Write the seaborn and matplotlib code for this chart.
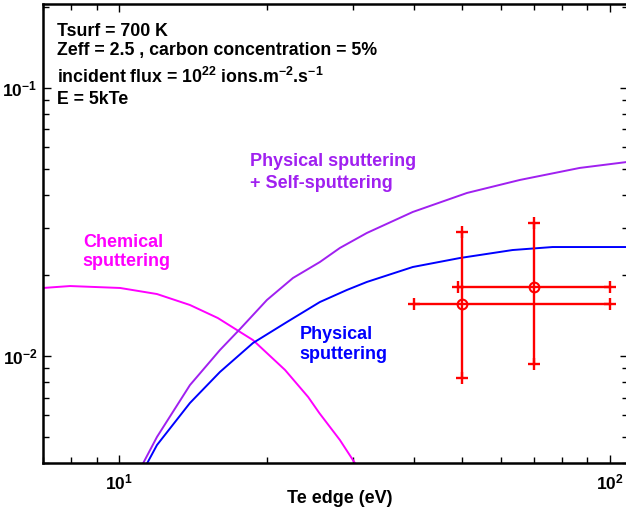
import numpy as np
import pandas as pd
import matplotlib
matplotlib.use("Agg")
import matplotlib.pyplot as plt
from matplotlib.ticker import LogLocator, NullFormatter, FixedLocator
import seaborn as sns

# chemical sputtering yield vs edge Te
te_chem = [7.0, 7.95, 10.05, 11.95, 13.95, 15.9, 18.75, 21.8, 24.3, 25.6, 28.2, 30.25, 30.7]
y_chem = [0.01794, 0.01824, 0.01794, 0.01703, 0.0155, 0.01386, 0.01147, 0.00887,
          0.00703, 0.00613, 0.00486, 0.00399, 0.0038]

# physical sputtering + self-sputtering
te_phys_self = [11.05, 11.95, 13.95, 16.06, 17.64, 20.02, 22.62, 25.67, 28.2, 32.0,
                39.7, 51.2, 65.6, 86.9, 110.0]
y_phys_self = [0.0038, 0.00499, 0.00779, 0.01053, 0.0126, 0.01618, 0.01954, 0.02242,
               0.0253, 0.02877, 0.03446, 0.04057, 0.04536, 0.0503, 0.0531]

# physical sputtering only
te_phys = [11.3, 11.95, 13.95, 16.06, 18.75, 21.99, 25.67, 29.13, 32.0, 39.7,
           49.5, 63.4, 76.5, 110.0]
y_phys = [0.00385, 0.004655, 0.00668, 0.00872, 0.01118, 0.01339, 0.0159, 0.01763,
          0.01889, 0.02148, 0.0232, 0.02485, 0.0255, 0.0255]

# measurements with ranges
te_meas = [50.0, 70.0]
te_lo = [40.0, 49.0]
te_hi = [100.0, 100.0]
y_meas = [0.0156, 0.0181]
y_lo = [0.0083, 0.0093]
y_hi = [0.029, 0.0314]

xtick_vals = [10, 100]
xtick_labels = [r"$\mathbf{10^{1}}$", r"$\mathbf{10^{2}}$"]
ytick_vals = [0.01, 0.1]
ytick_labels = [r"$\mathbf{10^{-2}}$", r"$\mathbf{10^{-1}}$"]

sns.set_style("ticks")
plt.rcParams["font.family"] = ["Liberation Sans", "DejaVu Sans"]
plt.rcParams["font.weight"] = "bold"
plt.rcParams["text.color"] = "black"
plt.rcParams["axes.labelcolor"] = "black"
plt.rcParams["mathtext.fontset"] = "custom"
plt.rcParams["mathtext.rm"] = "Liberation Sans:bold"
plt.rcParams["mathtext.bf"] = "Liberation Sans:bold"
plt.rcParams["mathtext.default"] = "bf"

MAGENTA = "#FF00FF"
PURPLE = "#A020F0"
BLUE = "#0000FF"
RED = "#FF0000"
FS = 12.8

fig = plt.figure(figsize=(6.26, 5.11), dpi=100)
ax = fig.add_axes([43 / 626, 48 / 511, 585 / 626, 459 / 511])

curves = [
    (te_chem, y_chem, MAGENTA),
    (te_phys_self, y_phys_self, PURPLE),
    (te_phys, y_phys, BLUE),
]
for te, y, col in curves:
    df = pd.DataFrame({"te": te, "y": y})
    sns.lineplot(data=df, x="te", y="y", color=col, lw=1.4, sort=False, ax=ax)

te_m = np.array(te_meas)
y_m = np.array(y_meas)
xerr = [te_m - np.array(te_lo), np.array(te_hi) - te_m]
yerr = [y_m - np.array(y_lo), np.array(y_hi) - y_m]
ax.errorbar(te_m, y_m, xerr=xerr, yerr=yerr, fmt="o", mfc="none", mec=RED,
            ms=7, mew=1.5, ecolor=RED, elinewidth=1.7, capsize=0)
# "+" shaped end caps like the original plot
ends_x = list(te_lo) + list(te_hi) + list(te_meas) + list(te_meas)
ends_y = list(y_meas) + list(y_meas) + list(y_lo) + list(y_hi)
ax.plot(ends_x, ends_y, ls="none", marker="+", ms=8, mew=1.7, color=RED)

ax.set_xscale("log")
ax.set_yscale("log")
ax.set_xlim(7.0, 109)
ax.set_ylim(0.00399, 0.2056)

ax.xaxis.set_major_locator(FixedLocator(xtick_vals))
ax.set_xticklabels(xtick_labels)
ax.yaxis.set_major_locator(FixedLocator(ytick_vals))
ax.set_yticklabels(ytick_labels)
for axis in (ax.xaxis, ax.yaxis):
    axis.set_minor_locator(LogLocator(base=10, subs=np.arange(2, 10)))
    axis.set_minor_formatter(NullFormatter())

ax.tick_params(which="both", direction="in", top=True, right=True, width=1,
               labelsize=12.5, colors="black")
ax.tick_params(which="major", length=6)
ax.tick_params(axis="x", which="major", pad=7)
ax.tick_params(axis="y", which="major", pad=4)
ax.tick_params(which="minor", length=4)
for sp in ax.spines.values():
    sp.set_linewidth(1.8)
    sp.set_color("black")

ax.set_xlabel("Te edge (eV)", fontsize=13, fontweight="bold", color="black")
ax.xaxis.set_label_coords(0.508, -0.0763)
ax.xaxis.label.set_va("center")
ax.set_ylabel("")

info = [
    ("Tsurf = 700 K", 0.941),
    ("Zeff = 2.5 , carbon concentration = 5%", 0.898),
    (r"incident flux = 10$^{22}$ ions.m$^{-2}$.s$^{-1}$", 0.841),
    ("E = 5kTe", 0.793),
]
for txt, yy in info:
    ax.text(0.024, yy, txt, transform=ax.transAxes, fontsize=FS, color="black",
            fontweight="bold", va="center", ha="left")

labels = [
    ("Chemical", 0.068, 0.481, MAGENTA),
    ("sputtering", 0.068, 0.438, MAGENTA),
    ("Physical sputtering", 0.354, 0.656, PURPLE),
    ("+ Self-sputtering", 0.354, 0.610, PURPLE),
    ("Physical", 0.439, 0.281, BLUE),
    ("sputtering", 0.439, 0.237, BLUE),
]
for txt, xx, yy, col in labels:
    ax.text(xx, yy, txt, transform=ax.transAxes, color=col, fontsize=13,
            fontweight="bold", va="center", ha="left")

fig.savefig("out.png", dpi=100)
